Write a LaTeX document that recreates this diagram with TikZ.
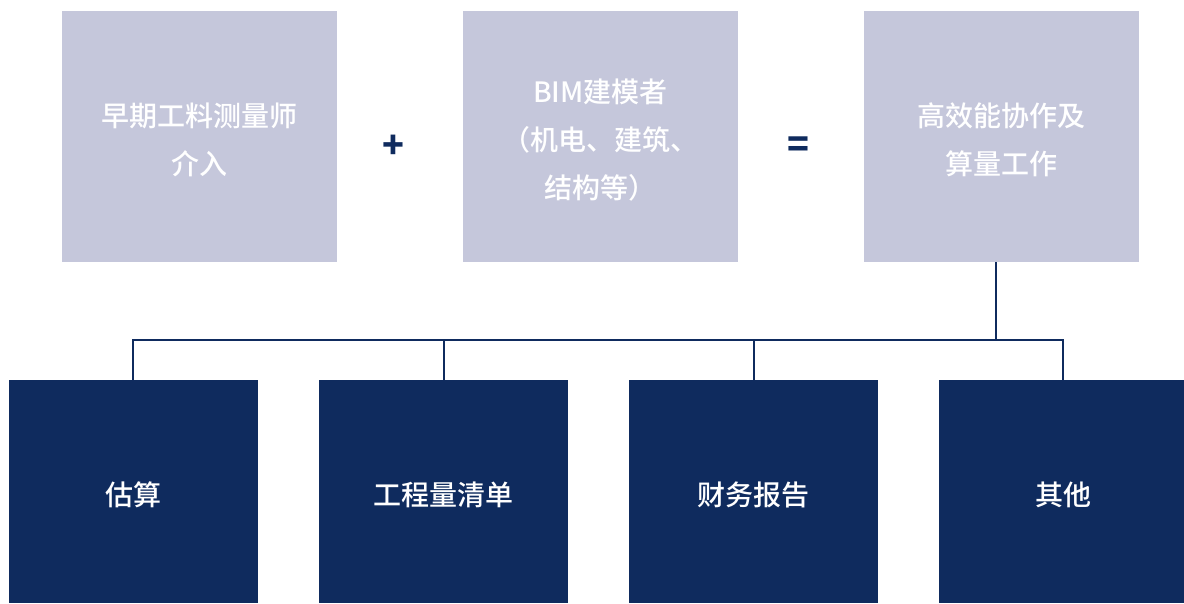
\documentclass[tikz,border=0pt]{standalone}
\usepackage{fontspec}
\setmainfont{Noto Sans CJK SC}[UprightFont=* Medium]
\definecolor{lightbox}{HTML}{C5C7DB}
\definecolor{navy}{HTML}{0F2B5E}
\begin{document}
\begin{tikzpicture}[x=1pt,y=-1pt,
  topbox/.style={fill=lightbox,draw=none,minimum width=275pt,minimum height=251pt,inner sep=0pt},
  botbox/.style={fill=navy,draw=none,minimum width=249pt,minimum height=223pt,inner sep=0pt},
  txt/.style={text=white,align=center,inner sep=0pt,font=\fontsize{28}{48}\selectfont},
  link/.style={draw=navy,line width=2pt},
  op/.style={text=navy,font=\fontsize{36}{36}\selectfont\bfseries}]
\useasboundingbox[fill=white] (0,0) rectangle (1184,603);
\node[topbox] (a) at (199.5,136.5) {};
\node[topbox] (b) at (600.5,136.5) {};
\node[topbox] (c) at (1001.5,136.5) {};
\node[txt] (at) at ([yshift=-3.5pt]a.center) {早期工料测量师\\介入};
\node[txt] (bt) at ([yshift=-3.5pt]b.center) {BIM建模者\\（机电、建筑、\\结构等）};
\node[txt] (ct) at ([yshift=-3.5pt]c.center) {高效能协作及\\算量工作};
\node[op] (plus) at (393,147) {+};
\node[op] (eq) at (798,147) {=};
\node[botbox] (d1) at (133.5,491.5) {};
\node[botbox] (d2) at (443.5,491.5) {};
\node[botbox] (d3) at (753.5,491.5) {};
\node[botbox] (d4) at (1063.5,491.5) {};
\node[txt] (d1t) at ([yshift=-3.5pt]d1.center) {估算};
\node[txt] (d2t) at ([yshift=-3.5pt]d2.center) {工程量清单};
\node[txt] (d3t) at ([yshift=-3.5pt]d3.center) {财务报告};
\node[txt] (d4t) at ([yshift=-3.5pt]d4.center) {其他};
\coordinate (hub) at (996,340);
\coordinate (l1) at (133,340);
\coordinate (l4) at (1063,340);
\draw[link] (c.south -| hub) -- (hub);
\draw[link] (d1.north -| l1) -- (l1) -- (l4) -- (d4.north -| l4);
\draw[link] (d2.north) -- (d2.north |- hub);
\draw[link] (d3.north) -- (d3.north |- hub);
\end{tikzpicture}
\end{document}
